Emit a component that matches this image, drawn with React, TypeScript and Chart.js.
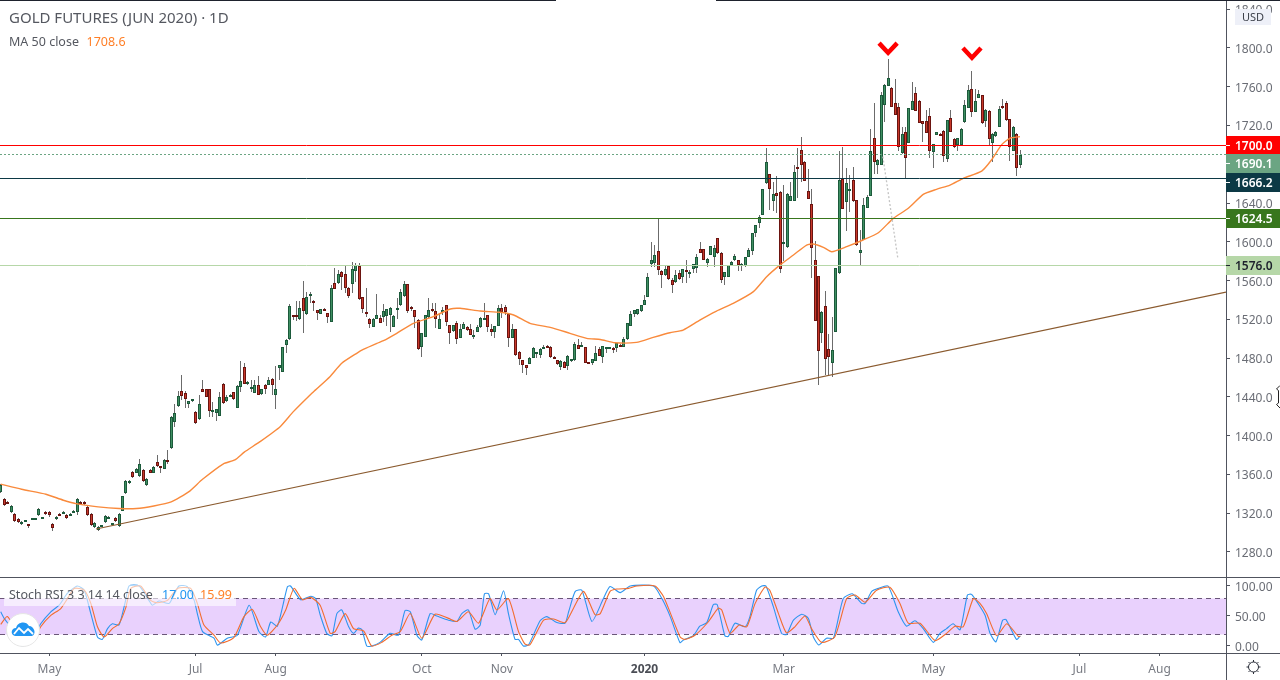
import React, { useEffect, useRef } from "react";
import { Chart, registerables } from "chart.js";

Chart.register(...registerables);

const opens = [1342,1335,1332,1321,1319,1314,1310,1312,1308.5,1314,1314.5,1318,1315,1321,1321,1309,1314,1319.5,1320.5,1318.6,1318,1321.5,1321,1332,1332,1326,1319,1306,1303,1306.5,1311,1314.5,1308.5,1315,1307,1322.5,1341,1351,1362.5,1361.5,1358,1365,1349,1365,1361.5,1373,1368.4,1366,1374.7,1387,1414.5,1431,1445.8,1443.7,1433,1435.4,1424,1416.9,1447.8,1447.8,1447.8,1424.8,1423.7,1420.6,1453,1436,1440.3,1444.7,1429,1450.6,1470.5,1453,1449.5,1444.4,1452,1443,1452,1452.6,1458,1442.3,1470,1466,1494,1499.4,1524.5,1525,1520,1541.7,1526,1545.5,1538.6,1529.4,1526,1531,1526.3,1517.7,1557.2,1557.9,1569.3,1566.5,1552,1556,1570.3,1575,1542.8,1527.8,1520,1512.5,1520.8,1521,1522.8,1523.5,1525,1512.5,1530.5,1534.5,1544,1556,1532.8,1529.4,1519.4,1491.9,1502.2,1522,1530.4,1529,1510.4,1528.8,1534.5,1513.9,1508,1516,1501,1510.4,1511.8,1510.4,1503,1507.3,1511.8,1520.4,1524.2,1510.4,1507.3,1513.5,1531.4,1532.4,1525.6,1501.1,1509.7,1486,1477.7,1472.6,1474.3,1480.5,1485,1483.2,1491,1492.3,1492,1481.5,1477.7,1470.5,1476.4,1472.2,1477.4,1477.7,1493.2,1492.5,1491,1475.7,1475.3,1477.4,1489.8,1481.5,1490.5,1490.5,1490.8,1490.1,1494,1491.8,1499.4,1513.5,1525.8,1525.8,1529,1535.1,1543.4,1577,1578.5,1590.2,1569.5,1565.8,1574.7,1560.3,1558.9,1567.5,1564,1570.9,1567.5,1571.6,1573.3,1592.2,1592.2,1578.5,1586.7,1584.7,1603.6,1588.1,1563.4,1564,1576,1580.9,1580.9,1576.4,1575,1584.7,1590.2,1609.4,1619.8,1628,1660.4,1669.6,1642.5,1650,1651,1598.7,1594.3,1642.5,1642.5,1676.9,1694.4,1682.7,1652,1638.7,1580.9,1564.4,1505.6,1533.4,1489,1474.6,1507.3,1567.5,1664.8,1641.4,1653,1663.8,1642.8,1588.8,1601.9,1635.3,1647.6,1706.8,1679,1679.6,1741.5,1761.2,1758.4,1742.9,1738.8,1691.3,1713,1702.3,1736,1753.2,1745.3,1724.3,1724.3,1729.5,1693,1710.6,1711.5,1714,1685.8,1727.4,1705.8,1700,1700,1723.3,1738.4,1757.4,1734.3,1748.8,1751.2,1725,1734.7,1702.3,1708.9,1718.8,1739.8,1742.9,1726.4,1694,1711.6,1679];
const closes = [1349,1328,1331,1327,1312,1311,1311,1312.7,1307.5,1315,1315,1324,1316,1319,1318,1305,1316.5,1318.5,1321.5,1315,1319,1322.5,1335,1329,1329,1318,1308,1310,1306,1307.5,1317.5,1316,1309.5,1312,1319.6,1337.5,1353,1353,1357.5,1366,1370.5,1353,1355.5,1361.5,1367.8,1368.8,1367,1375.3,1373,1419.6,1423,1441,1441.3,1438.2,1435.4,1437.5,1413.4,1432.3,1445.4,1440.3,1425.8,1426,1427.5,1439.6,1434,1440,1442,1438,1451,1456,1453.7,1455.4,1450.5,1452,1442.3,1447.8,1448.5,1457,1452.6,1447.8,1472.6,1491,1498.7,1533.5,1523.5,1522.8,1531.4,1529,1542.8,1546.3,1537,1526.3,1530.4,1530,1522.8,1552,1551.7,1566.5,1564,1552,1544.5,1571.7,1576,1540.7,1531,1526.8,1515.6,1520,1524,1516.6,1528.7,1530.4,1532,1523.5,1531.5,1548,1557,1528.3,1531,1522.8,1489,1505.6,1524,1529.4,1529,1520.4,1520,1529.8,1517.6,1505.6,1513.9,1499.7,1510.4,1514.9,1509,1504.2,1504,1511.8,1521,1521.8,1512,1507.3,1512.8,1531.4,1527.3,1527.3,1500.4,1509.7,1482.9,1479.5,1473,1470.2,1480,1490,1486,1489.4,1492,1491.5,1480.8,1480.1,1474.3,1477.4,1470.2,1482.6,1478.8,1494.2,1489.8,1493.2,1475.3,1475,1478.8,1485,1482.6,1492.5,1491.5,1491.5,1488.4,1495.2,1491.6,1499.7,1515.9,1525.2,1529.6,1530.3,1534.5,1539.6,1564,1580.9,1586,1571.3,1566.1,1572,1562,1555.8,1565.4,1562,1571.6,1569.2,1568.5,1576.8,1584,1588.8,1581.6,1582.3,1595.3,1593.3,1588.1,1561,1568.5,1575.7,1579.2,1585,1576,1577.2,1584,1591.6,1608.8,1617,1626,1654,1682,1654.9,1649,1647.6,1571.6,1599.5,1649,1647,1671.7,1675.5,1679,1663.1,1644.5,1593.3,1518.6,1487.7,1527.9,1479.4,1481.5,1488.4,1572.6,1663.8,1634.2,1660.4,1654,1642,1596.4,1591.6,1637.7,1645.9,1693.4,1682.7,1684.4,1752,1761.8,1769,1739.5,1731.2,1698.2,1711.3,1686.5,1737.8,1745.3,1735.4,1723,1721.6,1712.6,1694,1700.6,1713,1710.5,1688.2,1725.4,1713.7,1697.5,1706.8,1716,1740.9,1756.3,1734.3,1745.3,1752.2,1722.3,1736,1705.8,1711,1713,1736.7,1737.8,1725.4,1697.5,1718.8,1675.8,1690];
const highs = [1350,1336,1332.5,1328,1320,1315,1312,1313,1309,1315.5,1315.5,1325,1316.5,1322,1322,1310,1317,1320,1322,1319.5,1320,1323,1336,1333,1333,1327,1320,1311,1307,1308,1318.5,1317,1310,1316,1320,1338,1354,1354,1363.5,1367,1376,1366,1356,1366,1368.5,1380,1369,1376,1385.7,1420,1432.7,1446,1462.6,1446,1436,1438,1425,1442,1457.5,1448.5,1448.5,1435,1428,1445.4,1454,1442,1443,1445.5,1452,1477,1475,1456,1457.5,1457.5,1461.6,1448.5,1453,1461,1459,1472,1473,1492,1499.5,1536,1525,1539.3,1539.3,1559.6,1548.6,1548.6,1539.5,1530,1531,1531.5,1527,1555.5,1572.7,1571,1570,1576,1553,1579.6,1578,1578,1543.5,1552,1521,1521,1546,1524,1535.5,1531,1533,1524,1541.7,1551,1560,1557,1533.5,1530,1520,1506,1524.5,1541.7,1537,1537,1526,1533,1535,1514.5,1514.5,1518,1515,1517.5,1513,1515,1509,1514,1522,1537,1525,1515,1513.5,1534.8,1536,1534.8,1526,1515,1510.2,1487,1478.5,1473,1481,1492,1486.5,1490,1493.5,1494,1492.5,1482,1478.5,1478,1477,1483,1479.5,1497,1499.4,1497,1491.5,1476,1479.5,1492.5,1492,1493,1492,1492,1491.5,1496,1494.5,1502,1516.5,1528.6,1530,1531,1535,1545,1567.5,1600,1596.7,1624.2,1571,1576,1575,1563,1570.9,1571,1572,1581.2,1571,1577.5,1587.5,1599.8,1593,1583,1596,1597,1604,1589,1569,1576,1580,1587.5,1581.5,1578,1584.5,1593.3,1609.5,1617.5,1628,1655,1696.5,1670,1662,1667.9,1652,1658.6,1650,1662,1679,1696.5,1707.8,1683,1674.8,1654,1600.8,1565,1528.5,1549.2,1504.9,1522,1573,1694,1697.5,1676.5,1669,1677,1643.5,1612,1645,1648,1716,1742.9,1685,1755,1762.5,1788.7,1760,1767.7,1742.9,1718,1718,1738.5,1765.3,1760,1746,1725,1736,1737.8,1701,1713.5,1712,1715,1726,1736,1707,1707.5,1717,1746,1761.8,1776.3,1757.4,1757,1752,1737,1735.5,1712,1714,1740,1747.4,1745.7,1727,1719.5,1712,1695];
const lows = [1341,1327,1330,1320,1311,1310,1307.5,1311.5,1305,1313.5,1313.5,1317,1314.5,1318,1316,1302,1313,1318,1320,1314,1317,1321,1318,1328,1328,1317,1307,1305,1302,1306,1310,1314,1308,1311,1306,1322,1340,1350,1356,1361,1357,1352,1348.5,1361,1361,1368,1361,1365.5,1370.5,1386,1409.3,1430,1436.8,1429,1429,1434.5,1412.5,1416,1445,1439.5,1419.6,1419.6,1415.5,1420,1433,1435,1439.5,1437,1428.5,1445.4,1453,1452,1445.4,1444,1441.5,1442,1443,1452,1442,1428,1457.5,1465.5,1485,1499,1519.4,1518.3,1519.5,1506.3,1525,1537,1529,1519.4,1525.5,1529.5,1516.6,1517,1551,1557,1550,1547.6,1542.4,1547.6,1559,1540,1526.3,1522,1510.8,1512,1520,1516,1517.7,1513,1507.3,1512,1520,1534,1543.5,1527,1529,1510.8,1488.5,1481.5,1501.5,1521.5,1528,1511,1510,1524.5,1513,1495,1507,1495,1500.5,1510,1508,1503.5,1499.5,1507,1511,1520,1507.3,1503,1500.4,1513,1521,1525,1492,1500.5,1482,1473,1465,1462.6,1473.5,1480,1480.5,1479.8,1490,1490.5,1480,1479.5,1473,1467.8,1469.5,1467.8,1476.5,1477,1489,1491,1474.5,1474.5,1473,1477,1482,1475.3,1485,1490,1485.6,1486.6,1491,1491.5,1499,1513,1522,1525,1528,1534.5,1543,1574.4,1574.4,1565.8,1552.7,1565,1561,1547.5,1558,1561,1557.5,1557.2,1562.5,1567.5,1567.5,1588,1581,1573.6,1586,1574.4,1587.5,1557.2,1555.4,1563.5,1575,1580.5,1570.2,1570.2,1574.5,1584,1586.4,1605,1614,1627.5,1660,1632.8,1632.2,1629.4,1567.8,1580.6,1594,1642,1642,1644.9,1662,1662.5,1644,1563,1518,1452.2,1496,1462.6,1462.6,1460.1,1507,1567,1634,1611,1631,1641.5,1596,1576,1601.5,1635,1647,1670,1670,1679,1724,1761,1739,1731,1694,1691,1665.5,1702,1735.5,1735,1722.5,1703.4,1712,1686,1676,1710,1710,1682.7,1682.7,1713,1697,1694,1699.5,1723,1738,1729,1734,1748,1722,1718,1700,1682.7,1708,1718,1737,1725,1683.4,1693.5,1668.3,1676];

const maIndex = [0,6,13,18,22,28,34,39,44,49,54,58,64,67.3,70,74.5,80.3,84.1,88.9,90.4,94.6,98,102.3,104.2,108.1,110,113.8,118.6,124.3,129.2,132,137.8,143.5,147.4,152.1,157.9,163.6,168.4,172.3,176.5,182.7,187.5,192.3,196.1,200.9,205.7,210.5,216.3,220.1,223.9,227.8,231.6,233.5,236.4,238.8,243.1,247.8,252.2,256.5,260.8,265.1,268.9,272.8,276.6,281.9,284.7,287.6,290,292.9];
const maValues = [1350,1344.7,1339.6,1333.4,1329.6,1326.5,1324.8,1324.8,1327.5,1331.7,1342,1355,1371,1375,1383,1393.8,1409.3,1424.8,1442,1447,1460.9,1474.7,1485,1489,1495.3,1498,1505.6,1515.9,1522.8,1530.7,1531.4,1528.6,1527.3,1524.5,1515.9,1511.8,1505.6,1500.4,1499.2,1495.9,1496.3,1501.4,1506.2,1509,1519.3,1528.6,1536.5,1548.6,1564,1576,1586.4,1596.7,1597.8,1594.3,1589.8,1595,1601.9,1609.4,1624.2,1634.6,1649,1654.2,1658.6,1665.5,1673,1684.4,1700,1706.8,1708.6];

const kIndex = [0,1,1.9,3.4,6.2,9.6,11.5,14.4,16.8,19.2,22,24,25.9,27.8,29.2,30.7,32.1,34,35.9,36.9,39.8,42.6,43.6,45.5,48.4,51.2,53.6,55.6,56.5,58,61.3,62.3,65.1,68,71.4,74.2,76.1,77.6,79.5,82.4,83.3,86.2,89.1,90.5,91.8,93.7,95.2,96.6,98,100,101.4,102.8,103.8,105.2,106.6,109,111.9,114.3,116.2,117.7,119.6,121,123.4,125.3,128.7,131.1,132.5,134.4,136.3,137.8,139,140.2,142.1,144.5,145.9,147.8,148.8,150.2,151.7,155,156.9,159.8,162.2,163.2,165.1,167,169.9,173.2,175.1,178,180.9,187.6,190,192.4,195.2,196.2,199,200.9,202.9,204.8,205.9,208.1,209.1,211,213.9,215.3,217.2,218.7,219.9,222,224.4,225.8,227.8,230.2,232.1,233.5,235.1,237.3,239.3,242.1,244.7,247.4,248.4,250.3,252.2,255,257.9,260.3,262.7,265.1,268,269.9,271.8,273.7,275.7,277.8,279,282.8,284.3,286,287.9,288.9,291.9,293];
const kValues = [57,46,39,15,0,15,37,57,68,88,100,93,54,15,11,29,37,35,76,100,100,76,68,75,71,100,99,76,54,24,13,1.4,13,18,68,24,15,40,33,99,100,77,83,79,52,21,17,54,60,32,21,30,27,0,0,6,21,18,59,57,18,10,54,50,43,41,54,60,28,35,87,87,52,92,54,11,11,0,2,42,49,39,38,57,91,93,41,79,99,89,100,100,79,49,5.5,10,17,33,39,69,69,17,16,38,32,49,93,100,100,66,21,19,43,53,46,15.5,1.6,13,13,79,87,71,71,91,96,100,57,33,42,29,6,21,29,37,27,85,86,52,21,7,43,44,11,17];
const dIndex = [0,1.9,4.3,6.2,9.6,11.5,14.4,17.2,19.2,21.1,24,25.9,27.8,29.7,32.1,34,35.9,37.4,40.2,43.1,45,47.9,50.8,54.6,56.5,58.4,61.3,63.2,67,69.9,72.3,74.7,76.6,79.5,81.9,84.3,86.7,89.1,91.8,94.7,96.1,99,101.4,104.3,106.6,109.5,112.4,114.8,117.7,121,124.8,128.7,131.1,134.4,137.3,140.6,142.6,145.9,148.8,150.7,152.1,156,158.9,162.2,164.6,167.5,170.8,172.3,175.1,177,180.4,182.8,188,190.5,195.2,196.6,199.5,203.3,206.2,207.2,209.6,212.2,214.4,216.8,219.6,221,223.5,225.8,228.2,231.1,233,235.9,239.7,243.1,245.5,248.4,251.7,255.5,258.4,260.8,264.2,268.5,271.8,274.2,276.6,279.5,281.4,283.3,286.2,289.1,292.4,293];
const dValues = [36,49,26,1,10,32,51,62,79,96,93,71,32,15,29,37,63,96,100,76,72,76,96,96,71,35,18,5,14,49,61,32,18,35,60,96,77,81,68,21,24,54,29,25,0,6,18,24,54,13,53,46,41,57,38,79,60,79,24,3,2,43,45,39,63,91,52,54,91,95,96,100,100,82,15.5,11,18,40,63,60,21,35,32,71,98,93,54,22,32,50,29,6,15.5,79,85,73,93,98,71,38,38,9,21,33,32,79,71,54,17,37,16,16];

const trendIndex = [27.4, 352.1];
const trendValues = [1303.7, 1548.2];
const fanIndex = [253.5, 257.8];
const fanValues = [1688, 1583];
const chevronOneIndex = [252.4, 255, 257.6];
const chevronOneValues = [1805, 1795, 1805];
const chevronTwoIndex = [276.5, 279.1, 281.7];
const chevronTwoValues = [1800, 1790, 1800];

const levelValues = [1700, 1690.1, 1666.2, 1624.5, 1576];
const levelLabels = ["1700.0", "1690.1", "1666.2", "1624.5", "1576.0"];
const levelColors = ["#ff0000", "#6ba583", "#0c3945", "#38761d", "#b6d7a8"];
const levelTextColors = ["#ffffff", "#ffffff", "#ffffff", "#ffffff", "#1e222d"];

const priceTicks = [1280, 1320, 1360, 1400, 1440, 1480, 1520, 1560, 1600, 1640, 1680, 1720, 1760, 1800, 1840];
const rsiTicks = [0, 50, 100];
const xTickIndex = [14, 56, 79, 121, 144, 185, 225, 268, 310, 333];
const xTickLabels = ["May", "Jul", "Aug", "Oct", "Nov", "2020", "Mar", "May", "Jul", "Aug"];

const FONT = '"Noto Sans", sans-serif';
const TEXT = "#555860";
const LINE = "#50535e";
const xMin = -0.2;
const xMax = 352.1;

const pairs = (xs: number[], ys: number[]) => xs.map((x, i) => ({ x, y: ys[i] }));

const noPadding = (s: any) => {
  s.paddingTop = 0;
  s.paddingBottom = 0;
  s.paddingLeft = 0;
  s.paddingRight = 0;
};

const snapPlugin = {
  id: "snap",
  beforeDatasetsDraw(chart: any) {
    chart.data.datasets.forEach((ds: any, i: number) => {
      const meta = chart.getDatasetMeta(i);
      if (ds.type === "bar") {
        meta.data.forEach((el: any) => {
          el.x = Math.floor(el.x) + 0.5;
          const top = Math.round(Math.min(el.y, el.base));
          let bottom = Math.round(Math.max(el.y, el.base));
          const minH = ds.minPx;
          if (bottom - top < minH) bottom = top + minH;
          el.y = top;
          el.base = bottom;
        });
      } else if (ds.snapY) {
        meta.data.forEach((p: any) => {
          p.y = Math.round(p.y - 0.01) + 0.5;
        });
      }
    });
  },
};

const chromePlugin = {
  id: "chrome",
  afterDraw(chart: any) {
    const ctx = chart.ctx;
    const y = chart.scales.y;
    ctx.save();
    ctx.textBaseline = "alphabetic";
    ctx.textAlign = "left";

    // frame
    ctx.fillStyle = LINE;
    ctx.fillRect(0, 577, 1280, 1);
    ctx.fillRect(0, 653, 1280, 1);
    ctx.fillRect(1226, 653, 1, 27);
    ctx.fillStyle = "#1e222d";
    ctx.fillRect(0, 0, 556, 1);
    ctx.fillRect(716, 0, 564, 1);

    // headline
    ctx.font = `15px ${FONT}`;
    ctx.fillStyle = TEXT;
    ctx.fillText("GOLD FUTURES (JUN 2020) \u00b7 1D", 9, 23);
    ctx.font = `12.5px ${FONT}`;
    ctx.fillText("MA 50 close", 9, 46);
    ctx.fillStyle = "#ff7f27";
    ctx.fillText("1708.6", 86.5, 46);

    // Stoch RSI legend
    ctx.fillStyle = "rgba(255,255,255,0.6)";
    ctx.fillRect(4, 585, 232, 21);
    ctx.font = `12.5px ${FONT}`;
    ctx.fillStyle = TEXT;
    ctx.fillText("Stoch RSI 3 3 14 14 close", 9, 599);
    ctx.fillStyle = "#2196f3";
    ctx.fillText("17.00", 162, 599);
    ctx.fillStyle = "#ff7f27";
    ctx.fillText("15.99", 200, 599);

    // logo
    ctx.beginPath();
    ctx.arc(23, 630, 16.5, 0, Math.PI * 2);
    ctx.fillStyle = "#ffffff";
    ctx.fill();
    ctx.strokeStyle = "#e6e6e6";
    ctx.lineWidth = 1;
    ctx.stroke();
    ctx.beginPath();
    ctx.moveTo(15, 636);
    ctx.bezierCurveTo(10, 635, 11, 628, 16, 628);
    ctx.bezierCurveTo(17, 622, 26, 620, 29, 626);
    ctx.bezierCurveTo(34, 626, 37, 634, 32, 636);
    ctx.closePath();
    ctx.fillStyle = "#2196f3";
    ctx.fill();
    ctx.beginPath();
    ctx.moveTo(14, 634);
    ctx.lineTo(19, 628);
    ctx.lineTo(24, 633);
    ctx.lineTo(28, 629);
    ctx.lineTo(33, 634);
    ctx.strokeStyle = "#ffffff";
    ctx.lineWidth = 1.8;
    ctx.stroke();

    // price tags
    let prev = -100;
    const tagH = 18.6;
    levelValues.forEach((v, i) => {
      const c = Math.max(y.getPixelForValue(v), prev + tagH);
      prev = c;
      const top = Math.round(c - tagH / 2);
      ctx.fillStyle = levelColors[i];
      ctx.fillRect(1226, top, 54, Math.round(tagH));
      ctx.fillStyle = levelTextColors[i];
      ctx.fillRect(1226, top + 9, 4, 1);
      ctx.font = `600 12px ${FONT}`;
      ctx.fillText(levelLabels[i], 1235, top + 14);
    });

    // currency box
    ctx.fillStyle = "#eef0f8";
    ctx.fillRect(1235, 9, 36, 16);
    ctx.fillStyle = "#3a3e48";
    ctx.font = `11px ${FONT}`;
    ctx.fillText("USD", 1242, 21);

    // settings gear
    ctx.strokeStyle = "#2a2e39";
    ctx.lineWidth = 1;
    ctx.beginPath();
    ctx.arc(1253.5, 667, 5, 0, Math.PI * 2);
    for (let a = 0; a < 8; a++) {
      const t = (a * Math.PI) / 4;
      ctx.moveTo(1253.5 + Math.cos(t) * 5, 667 + Math.sin(t) * 5);
      ctx.lineTo(1253.5 + Math.cos(t) * 7, 667 + Math.sin(t) * 7);
    }
    ctx.stroke();

    // resize cursor at the page edge
    ctx.strokeStyle = "#222222";
    ctx.beginPath();
    ctx.moveTo(1280, 385.5);
    ctx.lineTo(1276.5, 389);
    ctx.lineTo(1278.5, 390.5);
    ctx.lineTo(1278.5, 403);
    ctx.lineTo(1276.5, 404.5);
    ctx.lineTo(1280, 408);
    ctx.stroke();

    ctx.restore();
  },
};

export default function App() {
  const ref = useRef<HTMLCanvasElement>(null);
  useEffect(() => {
    if (!ref.current) return;
    const wicks = highs.map((h, i) => ({ x: i, y: [lows[i], h] }));
    const greens: any[] = [];
    const reds: any[] = [];
    opens.forEach((o, i) => {
      const c = closes[i];
      (c >= o ? greens : reds).push({ x: i, y: [Math.min(o, c), Math.max(o, c)] });
    });
    const span = (v: number) => [{ x: xMin, y: v }, { x: xMax, y: v }];
    const line = (extra: any) => ({
      type: "line",
      pointRadius: 0,
      borderWidth: 1,
      fill: false,
      tension: 0,
      xAxisID: "x",
      yAxisID: "y",
      ...extra,
    });
    const bar = (extra: any) => ({
      type: "bar",
      xAxisID: "x",
      yAxisID: "y",
      grouped: false,
      inflateAmount: 0,
      borderSkipped: false,
      ...extra,
    });
    const chart = new Chart(ref.current, {
      type: "bar",
      data: {
        datasets: [
          line({ label: "Band top", yAxisID: "y2", data: span(80), borderColor: "#6a5678", borderDash: [5, 4], fill: "+1", backgroundColor: "#e9d1fd", order: 21, snapY: true }),
          line({ label: "Band bottom", yAxisID: "y2", data: span(20), borderColor: "#6a5678", borderDash: [5, 4], order: 20, snapY: true }),
          line({ label: "%D", yAxisID: "y2", data: pairs(dIndex, dValues), borderColor: "#f26c2e", tension: 0.2, borderWidth: 1.1, order: 18 }),
          line({ label: "%K", yAxisID: "y2", data: pairs(kIndex, kValues), borderColor: "#2d95ef", tension: 0.2, borderWidth: 1.1, order: 19 }),
          bar({ label: "Wick", data: wicks, backgroundColor: "#6b6b6b", barThickness: 1, minPx: 1, order: 17 }),
          bar({ label: "Up", data: greens, backgroundColor: "#3f8f62", borderColor: "#1c5a3b", borderWidth: 1, barThickness: 3, minPx: 2, order: 16 }),
          bar({ label: "Down", data: reds, backgroundColor: "#c8382a", borderColor: "#6b1410", borderWidth: 1, barThickness: 3, minPx: 2, order: 15 }),
          line({ label: "MA 50", data: pairs(maIndex, maValues), borderColor: "#f98a3c", tension: 0.2, borderWidth: 1.4, order: 14 }),
          line({ label: "Trend", data: pairs(trendIndex, trendValues), borderColor: "#8a5a2e", borderWidth: 1.2, order: 13 }),
          line({ label: "Fan", data: pairs(fanIndex, fanValues), borderColor: "#c4c4c4", borderDash: [2, 2], borderWidth: 1.3, order: 12 }),
          ...levelValues.map((v, i) =>
            line({ label: levelLabels[i], data: span(v), borderColor: levelColors[i], borderDash: i === 1 ? [2, 2] : [], order: 11 - i, snapY: true })
          ),
          line({ label: "Top one", data: pairs(chevronOneIndex, chevronOneValues), borderColor: "#ff0000", borderWidth: 4.5, order: 1 }),
          line({ label: "Top two", data: pairs(chevronTwoIndex, chevronTwoValues), borderColor: "#ff0000", borderWidth: 4.5, order: 0 }),
        ] as any,
      },
      options: {
        responsive: false,
        devicePixelRatio: 1,
        animation: false,
        events: [],
        layout: { autoPadding: false, padding: 0 },
        plugins: { legend: { display: false }, tooltip: { enabled: false }, title: { display: false } },
        scales: {
          x: {
            type: "linear",
            min: xMin,
            max: xMax,
            bounds: "data",
            offset: false,
            position: "bottom",
            grid: { display: true, offset: false, drawOnChartArea: false, drawTicks: true, tickLength: 3, color: LINE },
            border: { display: true, color: LINE },
            afterBuildTicks: (s: any) => {
              s.ticks = xTickIndex.map((value) => ({ value }));
            },
            afterFit: (s: any) => {
              s.height = 27;
              noPadding(s);
            },
            ticks: {
              autoSkip: false,
              maxRotation: 0,
              padding: 6,
              color: (c: any) => (c.tick && c.tick.label === "2020" ? "#4a4d55" : "#777a82"),
              font: (c: any) => ({ family: FONT, size: 12, weight: c.tick && c.tick.label === "2020" ? "bold" : "normal" }),
              callback: (v: any) => xTickLabels[xTickIndex.indexOf(v)],
            },
          },
          y: {
            type: "linear",
            position: "right",
            stack: "panes",
            stackWeight: 577,
            weight: 0,
            min: 1254.2,
            max: 1849.5,
            bounds: "data",
            grid: { display: true, drawOnChartArea: false, drawTicks: true, tickLength: 4, color: LINE },
            border: { display: true, color: LINE },
            afterBuildTicks: (s: any) => {
              s.min = 1254.2;
              s.max = 1849.5;
              s.ticks = priceTicks.map((value) => ({ value }));
            },
            afterFit: (s: any) => {
              s.width = 54;
              noPadding(s);
            },
            ticks: {
              autoSkip: false,
              padding: 5,
              labelOffset: 1.5,
              color: "#6a6d75",
              font: { family: FONT, size: 12 },
              callback: (v: any) => Number(v).toFixed(1),
            },
          },
          y2: {
            type: "linear",
            position: "right",
            stack: "panes",
            stackWeight: 76,
            weight: 1,
            min: -11.7,
            max: 115,
            bounds: "data",
            grid: { display: true, drawOnChartArea: false, drawTicks: true, tickLength: 4, color: LINE },
            border: { display: true, color: LINE },
            afterBuildTicks: (s: any) => {
              s.min = -11.7;
              s.max = 115;
              s.ticks = rsiTicks.map((value) => ({ value }));
            },
            afterFit: (s: any) => {
              s.width = 54;
              noPadding(s);
            },
            ticks: {
              autoSkip: false,
              padding: 5,
              labelOffset: 1.5,
              color: "#6a6d75",
              font: { family: FONT, size: 12 },
              callback: (v: any) => Number(v).toFixed(2),
            },
          },
        },
      } as any,
      plugins: [snapPlugin, chromePlugin],
    } as any);
    return () => chart.destroy();
  }, []);
  return (
    <div style={{ position: "fixed", left: 0, top: 0, width: 1280, height: 680, background: "#ffffff", overflow: "hidden" }}>
      <canvas ref={ref} width={1280} height={680} style={{ display: "block" }} />
    </div>
  );
}
